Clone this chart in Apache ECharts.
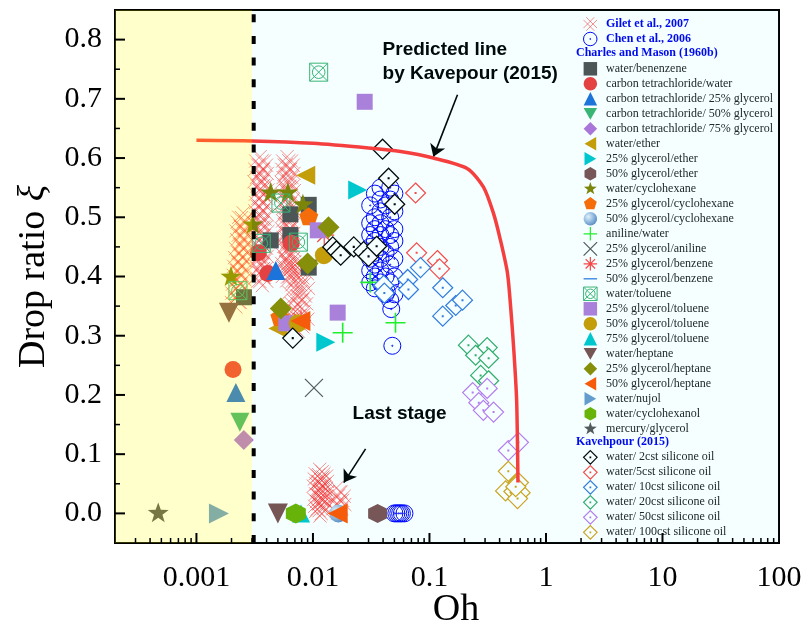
<!DOCTYPE html>
<html>
<head>
<meta charset="utf-8">
<script src="https://cdn.jsdelivr.net/npm/echarts@6.0.0/dist/echarts.min.js"></script>
<style>
html,body{margin:0;padding:0;background:#fff;}
#chart{width:803px;height:625px;}
</style>
</head>
<body>
<div id="chart"></div>
<script>
// ---- axis ranges and tick values ----
const X_MIN = 0.0002, X_MAX = 100;
const Y_MIN = -0.05, Y_MAX = 0.85;
const SHADE_EDGE = 0.0030;     // right edge of the shaded low-Oh band
const DOTTED_AT = 0.0031;      // dotted boundary line
const X_MAJOR_TICKS = [0.001, 0.01, 0.1, 1, 10];
const X_MINOR_TICKS = [0.0003,0.0004,0.0005,0.0006,0.0007,0.0008,0.0009,
  0.002,0.003,0.004,0.005,0.006,0.007,0.008,0.009,
  0.02,0.03,0.04,0.05,0.06,0.07,0.08,0.09,
  0.2,0.3,0.4,0.5,0.6,0.7,0.8,0.9,
  2,3,4,5,6,7,8,9, 20,30,40,50,60,70,80,90];
const Y_MAJOR_TICKS = [0,0.1,0.2,0.3,0.4,0.5,0.6,0.7,0.8];
const Y_MINOR_TICKS = [0.05,0.15,0.25,0.35,0.45,0.55,0.65,0.75];

// ---- Gilet et al., 2007 ----
const GILET_OH = [
  // Oh ~ 0.0024
  0.00252,0.00244,0.00258,0.00238,0.00250,0.00242,0.00255,0.00236,0.00248,0.00232,
  0.00245,0.00228,0.00240,0.00226,0.00238,0.00222,0.00236,0.00220,0.00232,0.00218,
  // Oh ~ 0.0036
  0.00352,0.00366,0.00346,0.00372,0.00356,0.00340,0.00362,0.00376,0.00350,0.00368,
  0.00352,0.00366,0.00346,0.00372,0.00356,0.00340,0.00362,0.00376,0.00350,0.00368,
  0.00352,0.00366,0.00346,0.00372,0.00356,0.00340,0.00362,0.00376,0.00350,0.00368,
  // Oh ~ 0.0061
  0.00600,0.00620,0.00590,0.00630,0.00605,0.00585,0.00615,0.00635,0.00598,0.00622,0.00588,0.00610,0.00628,0.00595,
  0.00600,0.00620,0.00590,0.00630,0.00605,0.00585,0.00615,0.00635,0.00598,0.00622,0.00588,0.00610,0.00628,0.00595,
  // Oh ~ 0.0065-0.0084
  0.00640,0.00780,0.00700,0.00820,0.00660,0.00760,0.00720,0.00840,0.00680,
  0.00790,0.00740,0.00810,0.00650,0.00770,0.00710,0.00830,0.00690,0.00750,
  // last stage
  0.0114,0.0120,0.0112,0.0122,0.0116,0.0110,0.0119,0.0124,
  0.0115,0.0121,0.0111,0.0117,0.0123,0.0113,0.0118,0.0115,
  0.0160,0.0170,0.0165,0.0172,0.0162
];
const GILET_XI = [
  0.500,0.492,0.485,0.477,0.470,0.462,0.455,0.447,0.440,0.432,
  0.425,0.417,0.410,0.402,0.395,0.387,0.380,0.372,0.364,0.356,
  0.595,0.588,0.581,0.574,0.567,0.560,0.553,0.546,0.539,0.532,
  0.525,0.518,0.511,0.504,0.497,0.490,0.483,0.476,0.469,0.462,
  0.455,0.448,0.441,0.434,0.427,0.420,0.413,0.406,0.399,0.392,
  0.595,0.588,0.581,0.574,0.567,0.559,0.552,0.545,0.538,0.530,0.523,0.516,0.509,0.502,
  0.494,0.487,0.480,0.473,0.466,0.458,0.451,0.444,0.437,0.430,0.422,0.415,0.408,0.400,
  0.425,0.418,0.412,0.405,0.399,0.392,0.386,0.380,0.373,
  0.367,0.360,0.354,0.347,0.341,0.334,0.328,0.321,0.315,
  0.067,0.063,0.058,0.054,0.050,0.046,0.041,0.037,
  0.033,0.029,0.024,0.020,0.016,0.012,0.007,0.003,
  0.036,0.029,0.022,0.015,0.008
];

// ---- Chen et al., 2006 ----
const CHEN = [
  [0.031,0.52],[0.031,0.49],[0.031,0.47],[0.031,0.45],[0.031,0.43],[0.031,0.41],[0.031,0.39],
  [0.034,0.54],[0.034,0.50],[0.034,0.48],[0.034,0.46],[0.034,0.44],[0.034,0.42],[0.034,0.40],[0.034,0.38],
  [0.038,0.55],[0.038,0.53],[0.038,0.51],[0.038,0.49],[0.038,0.47],[0.038,0.45],[0.038,0.43],[0.038,0.41],[0.038,0.39],
  [0.042,0.52],[0.042,0.48],[0.042,0.44],[0.042,0.40],[0.042,0.37],
  [0.046,0.55],[0.046,0.53],[0.046,0.50],[0.046,0.47],[0.046,0.45],[0.046,0.42],[0.046,0.39],[0.046,0.36],
  [0.050,0.54],[0.050,0.51],[0.050,0.48],[0.050,0.46],[0.050,0.43],[0.050,0.40],[0.050,0.37],
  [0.043,0.375],[0.047,0.345],[0.048,0.283],
  [0.050,0],[0.052,0],[0.054,0],[0.056,0],[0.058,0],[0.061,0]
];

// ---- Charles and Mason (1960b) ----
const WATER_BENZENE = [[0.00256,0.365],[0.00434,0.461],[0.0064,0.505],[0.0064,0.47],[0.0092,0.521],[0.0092,0.415]];
const CCL4_WATER = [[0.00206,0.243],[0.0034,0.44],[0.0041,0.405],[0.0065,0.456]];
const CCL4_G25 = [[0.00218,0.204],[0.0048,0.41]];
const CCL4_G50 = [[0.00236,0.154]];
const CCL4_G75 = [[0.00255,0.124]];
const WATER_ETHER = [[0.00867,0.571],[0.0050,0.312]];
const G25_ETHER = [[0.0242,0.546],[0.0129,0.289]];
const G50_ETHER = [[0.0359,0]];
const WATER_CYCLOHEXANE = [[0.00434,0.541],[0.0061,0.541],[0.0082,0.521],[0.00305,0.487],[0.00198,0.399]];
const G25_CYCLOHEXANE = [[0.0092,0.50],[0.0052,0.33]];
const G50_CYCLOHEXANE = [[0.0165,0]];
const ANILINE_WATER = [[0.018,0.305],[0.0511,0.322],[0.031,0.39]];
const G25_ANILINE = [[0.0102,0.212]];
const G25_BENZENE = [[0.0079,0.326],[0.0125,0.47]];
const G50_BENZENE = [[0.0224,0.45]];
const WATER_TOLUENE = [[0.0112,0.745],[0.00531,0.524],[0.0075,0.458],[0.0036,0.456],[0.00227,0.376]];
const G25_TOLUENE = [[0.0278,0.695],[0.011,0.478],[0.0163,0.339],[0.0059,0.321]];
const G50_TOLUENE = [[0.0124,0.436],[0.0074,0.321]];
const G75_TOLUENE = [[0.0079,0]];
const WATER_HEPTANE = [[0.0019,0.339],[0.0050,0]];
const G25_HEPTANE = [[0.0136,0.483],[0.0090,0.422],[0.0053,0.346]];
const G50_HEPTANE = [[0.0163,0],[0.0078,0.325]];
const WATER_NUJOL = [[0.00156,0]];
const WATER_CYCLOHEXANOL = [[0.00713,0]];
const MERCURY_GLYCEROL = [[0.00047,0]];

// ---- Kavehpour (2015) ----
const K_2CST = [[0.0396,0.615],[0.0446,0.566],[0.0503,0.522],[0.0148,0.450],[0.0159,0.443],[0.0173,0.436],
  [0.0224,0.450],[0.0272,0.442],[0.0300,0.434],[0.0352,0.451],[0.00671,0.296]];
const K_5CST = [[0.0760,0.541],[0.0776,0.440],[0.117,0.427],[0.122,0.413]];
const K_10CST = [[0.0405,0.385],[0.041,0.372],[0.065,0.395],[0.066,0.378],[0.0838,0.415],[0.130,0.381],[0.168,0.351],[0.192,0.360],[0.130,0.333]];
const K_20CST = [[0.216,0.284],[0.313,0.280],[0.249,0.267],[0.322,0.262],[0.275,0.233],[0.322,0.224]];
const K_50CST = [[0.235,0.204],[0.313,0.211],[0.265,0.187],[0.290,0.174],[0.355,0.171],[0.475,0.106],[0.58,0.12]];
const K_100CST = [[0.475,0.071],[0.58,0.052],[0.45,0.038],[0.53,0.037],[0.60,0.035],[0.57,0.025],[0.55,0.045]];

// ---- predicted line (Kavehpour 2015) ----
const PRED_OH = [0.001,0.003,0.01,0.03,0.0565,0.108,0.212,0.291,0.354,0.406,0.467,0.50,0.53,0.56,0.575];
const PRED_XI = [0.630,0.629,0.625,0.617,0.611,0.600,0.582,0.551,0.507,0.462,0.406,0.343,0.275,0.191,0.052];

// ---- marker shapes ----
const SYM = {
  hash: 'path://M-10,-6L6,10M-6,-10L10,6M-10,6L6,-10M-6,10L10,-6',
  ringDot: 'path://M10,0A10 10 0 1 1 -10,0A10 10 0 1 1 10,0ZM0.7,0A0.7 0.7 0 1 1 -0.7,0A0.7 0.7 0 1 1 0.7,0Z',
  diamondDot: 'path://M0,-10L10,0L0,10L-10,0ZM-0.4,-0.4L0.4,-0.4L0.4,0.4L-0.4,0.4Z',
  triDown: 'path://M-10,-8.66L10,-8.66L0,8.66Z',
  triLeft: 'path://M8.66,-10L8.66,10L-8.66,0Z',
  triRight: 'path://M-8.66,-10L-8.66,10L8.66,0Z',
  hexagon: 'path://M0,-10L8.66,-5L8.66,5L0,10L-8.66,5L-8.66,-5Z',
  pentagon: 'path://M-10,-10M10,10M0,-10L9.51,-3.09L5.88,8.09L-5.88,8.09L-9.51,-3.09Z',
  star: 'path://M-10,-10M10,10M0,-10L2.35,-3.24L9.51,-3.09L3.80,1.24L5.88,8.09L0,4L-5.88,8.09L-3.80,1.24L-9.51,-3.09L-2.35,-3.24Z',
  plus: 'path://M-10,0L10,0M0,-10L0,10',
  cross: 'path://M-10,-10L10,10M-10,10L10,-10',
  asterisk: 'path://M-10,0L10,0M0,-10L0,10M-7,-7L7,7M-7,7L7,-7',
  dash: 'path://M-10,-10M10,10M-10,-1L10,-1L10,1L-10,1Z',
  boxX: 'path://M-10,-10L10,-10L10,10L-10,10ZM-10,-10L10,10M10,-10L-10,10M7,0A7 7 0 1 1 -7,0A7 7 0 1 1 7,0Z'
};

const SERIF = "'Liberation Serif','Times New Roman',serif";
const SANS = "'Liberation Sans',Arial,sans-serif";
const NONE = 'rgba(0,0,0,0)';

function filled(name, data, symbol, size, color) {
  return { name, type: 'scatter', data, symbol, symbolSize: size, z: 3,
    itemStyle: { color, opacity: 1 } };
}
function outlined(name, data, symbol, size, stroke, width, fill) {
  return { name, type: 'scatter', data, symbol, symbolSize: size, z: 3,
    itemStyle: { color: fill || NONE, borderColor: stroke, borderWidth: width, opacity: 1 } };
}

const sphere = { type: 'radial', x: 0.35, y: 0.35, r: 0.75,
  colorStops: [{ offset: 0, color: '#E8F1FB' }, { offset: 1, color: '#4F80C0' }] };

const giletData = GILET_OH.map((o, i) => [o, GILET_XI[i]]);

const charlesSeries = [
  filled('water/benenzene', WATER_BENZENE, 'rect', 16, '#505050'),
  filled('carbon tetrachloride/water', CCL4_WATER, 'circle', 17, '#EE3B3B'),
  filled('carbon tetrachloride/ 25% glycerol', CCL4_G25, 'triangle', 19, '#1E6FD9'),
  filled('carbon tetrachloride/ 50% glycerol', CCL4_G50, SYM.triDown, 19, '#3CB371'),
  filled('carbon tetrachloride/ 75% glycerol', CCL4_G75, 'diamond', 20, '#B070D8'),
  filled('water/ether', WATER_ETHER, SYM.triLeft, 19, '#CC9900'),
  filled('25% glycerol/ether', G25_ETHER, SYM.triRight, 19, '#00C5CD'),
  filled('50% glycerol/ether', G50_ETHER, SYM.hexagon, 19, '#7B5050'),
  filled('water/cyclohexane', WATER_CYCLOHEXANE, SYM.star, 22, '#808000'),
  filled('25% glycerol/cyclohexane', G25_CYCLOHEXANE, SYM.pentagon, 20, '#FF6600'),
  filled('50% glycerol/cyclohexane', G50_CYCLOHEXANE, 'circle', 18, sphere),
  outlined('aniline/water', ANILINE_WATER, SYM.plus, 20, '#22EE22', 1.6),
  outlined('25% glycerol/aniline', G25_ANILINE, SYM.cross, 18, '#555555', 1.2),
  outlined('25% glycerol/benzene', G25_BENZENE, SYM.asterisk, 20, '#FF4040', 1.2),
  filled('50% glycerol/benzene', G50_BENZENE, SYM.dash, 18, '#3A7FE0'),
  outlined('water/toluene', WATER_TOLUENE, SYM.boxX, 18, '#3CB371', 1),
  filled('25% glycerol/toluene', G25_TOLUENE, 'rect', 16, '#B07CDA'),
  filled('50% glycerol/toluene', G50_TOLUENE, 'circle', 18, '#CC9900'),
  filled('75% glycerol/toluene', G75_TOLUENE, 'triangle', 18, '#00C5CD'),
  filled('water/heptane', WATER_HEPTANE, SYM.triDown, 20, '#7B4F4F'),
  filled('25% glycerol/heptane', G25_HEPTANE, 'diamond', 22, '#8B8B00'),
  filled('50% glycerol/heptane', G50_HEPTANE, SYM.triLeft, 20, '#FF5500'),
  filled('water/nujol', WATER_NUJOL, SYM.triRight, 20, '#6699CC'),
  filled('water/cyclohexanol', WATER_CYCLOHEXANOL, SYM.hexagon, 20, '#6CB000'),
  filled('mercury/glycerol', MERCURY_GLYCEROL, SYM.star, 22, '#555555')
];

const kavSeries = [
  outlined('water/ 2cst silicone oil', K_2CST, SYM.diamondDot, 20, '#000000', 1.3, '#FFFFFF'),
  outlined('water/5cst silicone oil', K_5CST, SYM.diamondDot, 20, '#FF4444', 1.2, '#FFFFFF'),
  outlined('water/ 10cst silicone oil', K_10CST, SYM.diamondDot, 20, '#3377DD', 1.2, '#FFFFFF'),
  outlined('water/ 20cst silicone oil', K_20CST, SYM.diamondDot, 20, '#33AA66', 1.2, '#FFFFFF'),
  outlined('water/ 50cst silicone oil', K_50CST, SYM.diamondDot, 20, '#BB77EE', 1.2, '#FFFFFF'),
  outlined('water/ 100cst silicone oil', K_100CST, SYM.diamondDot, 20, '#D4A017', 1.2, '#FFFFFF')
];
kavSeries.forEach(s => s.z = 4);

const giletSeries = outlined('Gilet et al., 2007', giletData, SYM.hash, 22, 'rgba(255,30,30,0.7)', 0.75);
giletSeries.z = 2;
const chenSeries = outlined('Chen et al., 2006', CHEN, SYM.ringDot, 17, '#0000FF', 1);
chenSeries.z = 2;

function legendItems(list) {
  return list.map(s => {
    const it = { name: s.name };
    if (s.itemStyle.borderWidth) it.itemStyle = { borderWidth: Math.min(s.itemStyle.borderWidth, 1.2) };
    return it;
  });
}

const predLine = {
  type: 'line', name: 'predicted', data: PRED_OH.map((o, i) => [o, PRED_XI[i]]),
  showSymbol: false, symbol: 'none', smooth: 0.25, z: 5, silent: true,
  lineStyle: { color: '#FF3838', width: 3.5 },
  markPoint: {
    symbol: 'circle', symbolSize: 0, silent: true,
    label: { show: true, position: 'right', distance: 0, color: '#000', fontFamily: SANS,
      fontWeight: 'bold', fontSize: 19, lineHeight: 24 },
    data: [
      { coord: [0.0396, 0.762], label: { formatter: 'Predicted line\nby Kavepour (2015)' } },
      { coord: [0.0219, 0.169], label: { formatter: 'Last stage' } }
    ]
  },
  markLine: {
    silent: true, symbol: ['none', 'arrow'], symbolSize: 12, label: { show: false },
    lineStyle: { color: '#000', width: 1.6, type: 'solid' },
    data: [
      [{ coord: [0.174, 0.707] }, { coord: [0.108, 0.602] }],
      [{ coord: [0.0283, 0.109] }, { coord: [0.0184, 0.052] }]
    ]
  }
};

// dotted boundary of the low-Oh band
const boundary = {
  type: 'line', data: [[DOTTED_AT, Y_MIN], [DOTTED_AT, Y_MAX]], z: 21, silent: true,
  showSymbol: false, symbol: 'none',
  lineStyle: { color: '#000', width: 4, type: [8, 13.7] }
};

const tickData = []
  .concat(X_MAJOR_TICKS.map(v => [v, Y_MIN, 0, 10]))
  .concat(X_MINOR_TICKS.map(v => [v, Y_MIN, 0, 5]))
  .concat(Y_MAJOR_TICKS.map(v => [X_MIN, v, 1, 10]))
  .concat(Y_MINOR_TICKS.map(v => [X_MIN, v, 1, 5]));

// axis ticks, plus translucent tints of the two Oh bands drawn over the marks
const ticks = {
  type: 'custom', data: tickData, z: 20, silent: true, clip: false,
  encode: { x: 0, y: 1 },
  renderItem: (params, api) => {
    const p = api.coord([api.value(0), api.value(1)]);
    const kind = api.value(2), len = api.value(3);
    const q = kind === 0 ? [p[0], p[1] - len] : [p[0] + len, p[1]];
    return { type: 'line', z2: 100, shape: { x1: p[0], y1: p[1], x2: q[0], y2: q[1] },
      style: { stroke: '#000', lineWidth: len > 6 ? 2 : 1.5 } };
  },
  markArea: { silent: true, z: 19,
    data: [
      [{ xAxis: X_MIN, itemStyle: { color: 'rgba(255,255,0,0.2)' } }, { xAxis: SHADE_EDGE }],
      [{ xAxis: SHADE_EDGE, itemStyle: { color: 'rgba(0,255,255,0.04)' } }, { xAxis: X_MAX }]
    ] }
};

const legendBase = {
  orient: 'vertical', left: 583, itemWidth: 13.5, itemHeight: 13.5, itemGap: 0, padding: 0,
  selectedMode: false,
  textStyle: { fontFamily: SERIF, fontSize: 12, color: '#222', lineHeight: 15, padding: [0, 0, 0, 4] }
};

const option = {
  animation: false,
  backgroundColor: '#FFFFFF',
  grid: { left: 115, right: 24, top: 10, bottom: 82, show: true, backgroundColor: '#FFFFFF',
    borderColor: '#000', borderWidth: 2, containLabel: false, outerBoundsMode: 'none' },
  xAxis: {
    type: 'log', logBase: 10, min: X_MIN, max: X_MAX, splitNumber: 6,
    name: 'Oh', nameLocation: 'middle', nameGap: 48, nameMoveOverlap: false,
    nameTextStyle: { fontFamily: SERIF, fontSize: 38, color: '#000', padding: [0, 0, 0, 18] },
    axisLine: { show: true, onZero: false, lineStyle: { color: '#000', width: 2 } },
    axisTick: { show: false }, minorTick: { show: false }, splitLine: { show: false },
    axisLabel: { showMinLabel: false, margin: 20, fontFamily: SERIF, fontSize: 30, color: '#000',
      formatter: v => (v < 0.00099 ? '' : String(parseFloat(Number(v).toPrecision(3)))) }
  },
  yAxis: {
    type: 'value', min: Y_MIN, max: Y_MAX, interval: 0.05,
    name: 'Drop ratio {xi|ξ}', nameLocation: 'middle', nameGap: 62, nameMoveOverlap: false,
    nameTextStyle: { fontFamily: SERIF, fontSize: 38, color: '#000',
      rich: { xi: { fontFamily: SERIF, fontSize: 38, fontStyle: 'italic', color: '#000' } } },
    axisLine: { show: true, onZero: false, lineStyle: { color: '#000', width: 2 } },
    axisTick: { show: false }, minorTick: { show: false }, splitLine: { show: false },
    axisLabel: { margin: 13, fontFamily: SERIF, fontSize: 30, color: '#000',
      formatter: v => { const r = Math.round(v * 100); return (r >= 0 && r <= 80 && r % 10 === 0) ? (r / 100).toFixed(1) : ''; } }
  },
  legend: [
    Object.assign({}, legendBase, { top: 16.5, data: legendItems([giletSeries, chenSeries]),
      textStyle: Object.assign({}, legendBase.textStyle, { color: '#0000EE', fontWeight: 'bold' }) }),
    Object.assign({}, legendBase, { top: 61.3, data: legendItems(charlesSeries) }),
    Object.assign({}, legendBase, { top: 449.8, data: legendItems(kavSeries) })
  ],
  graphic: [
    { type: 'text', left: 576, top: 47, silent: true,
      style: { text: 'Charles and Mason (1960b)', fontFamily: SERIF, fontSize: 12, fontWeight: 'bold', fill: '#0000EE' } },
    { type: 'text', left: 576, top: 435.5, silent: true,
      style: { text: 'Kavehpour (2015)', fontFamily: SERIF, fontSize: 12, fontWeight: 'bold', fill: '#0000EE' } }
  ],
  series: [giletSeries, chenSeries].concat(charlesSeries, kavSeries, [predLine, ticks, boundary])
};

const chart = echarts.init(document.getElementById('chart'), null, { renderer: 'canvas' });
chart.setOption(option);
</script>
</body>
</html>
